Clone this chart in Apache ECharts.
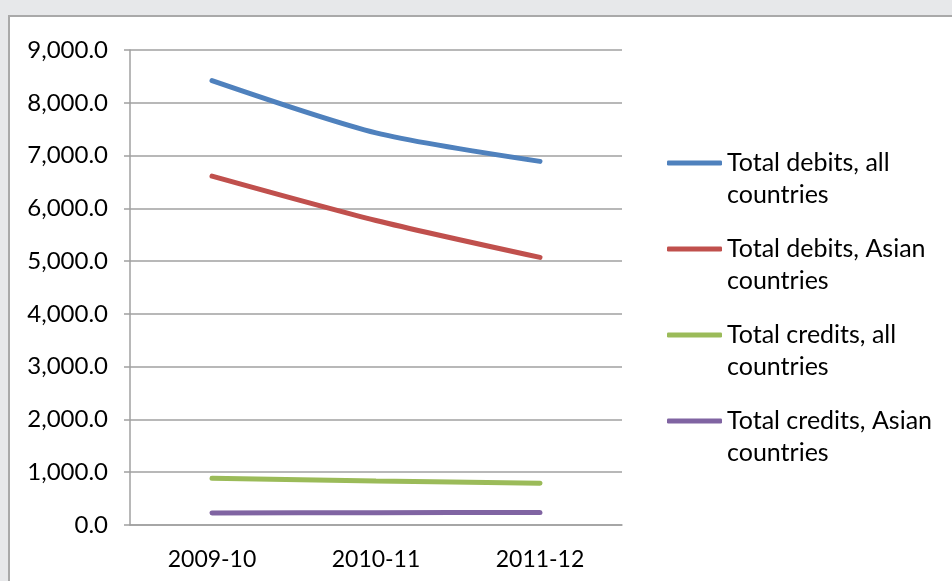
<!DOCTYPE html>
<html>
<head>
	<meta charset="utf-8" />
	<title>Debits and credits</title>
	<script src="https://cdn.jsdelivr.net/npm/echarts@6/dist/echarts.min.js"></script>
	<style>
		* {
			margin: 0;
			padding: 0;
		}

		html,
		body {
			width: 952px;
			height: 581px;
			overflow: hidden;
			background-color: #e7e8ea;
		}

		.frame {
			position: absolute;
			left: 8px;
			top: 15px;
			width: 1000px;
			height: 700px;
			background-color: #fff;
			border: 2px solid #a9a9a9;
		}

		#main {
			position: absolute;
			left: 0;
			top: 0;
			width: 952px;
			height: 581px;
		}
	</style>
</head>
<body>
	<div class="frame"></div>
	<div id="main"></div>
	<script>
		// data
		var years = ['2009-10', '2010-11', '2011-12'];
		var debitsAll = [8420, 7430, 6890];
		var debitsAsian = [6610, 5770, 5070];
		var creditsAll = [885, 835, 790];
		var creditsAsian = [228, 234, 236];
		var seriesNames = ['Total debits, all countries', 'Total debits, Asian countries',
			'Total credits, all countries', 'Total credits, Asian countries'];

		var font = 'Lato';

		function fmt(v) {
			var s = v.toFixed(1).split('.');
			return s[0].replace(/\B(?=(\d{3})+(?!\d))/g, ',') + '.' + s[1];
		}

		function makeSeries(name, data, color) {
			return {
				name: name,
				type: 'line',
				data: data,
				smooth: 0.25,
				showSymbol: false,
				symbol: 'none',
				lineStyle: { width: 5, color: color, cap: 'round' },
				itemStyle: { color: color }
			}
		}

		var chart = echarts.init(document.getElementById('main'));
		var option = {
			backgroundColor: 'transparent',
			animation: false,
			grid: {
				left: 130,
				right: 330,
				top: 50,
				bottom: 56
			},
			legend: {
				orient: 'vertical',
				left: 662,
				top: 110,
				itemWidth: 55,
				itemHeight: 5,
				itemGap: -10,
				icon: 'roundRect',
				data: seriesNames,
				formatter: function (name) {
					var i = name.lastIndexOf(' ');
					return '\n' + name.slice(0, i) + '\n' + name.slice(i + 1);
				},
				textStyle: {
					fontFamily: font,
					fontSize: 25,
					lineHeight: 32,
					color: '#000'
				}
			},
			xAxis: {
				type: 'category',
				data: years,
				axisLine: { lineStyle: { color: '#a0a0a0', width: 1.5 } },
				axisTick: { length: 6, lineStyle: { color: '#a0a0a0', width: 1.5 } },
				axisLabel: {
					margin: 23,
					fontFamily: font,
					fontSize: 23,
					color: '#000'
				}
			},
			yAxis: {
				type: 'value',
				min: 0,
				max: 9000,
				interval: 1000,
				axisLine: { show: true, lineStyle: { color: '#a0a0a0', width: 1.5 } },
				axisTick: { show: true, length: 6, lineStyle: { color: '#a0a0a0', width: 1.5 } },
				splitLine: { lineStyle: { color: '#a0a0a0', width: 1.5 } },
				axisLabel: {
					margin: 22,
					fontFamily: font,
					fontSize: 24,
					color: '#000',
					formatter: fmt
				}
			},
			series: [
				makeSeries(seriesNames[0], debitsAll, '#4f81bd'),
				makeSeries(seriesNames[1], debitsAsian, '#c0504d'),
				makeSeries(seriesNames[2], creditsAll, '#9bbb59'),
				makeSeries(seriesNames[3], creditsAsian, '#8064a2')
			]
		};
		chart.setOption(option);
	</script>
</body>
</html>
